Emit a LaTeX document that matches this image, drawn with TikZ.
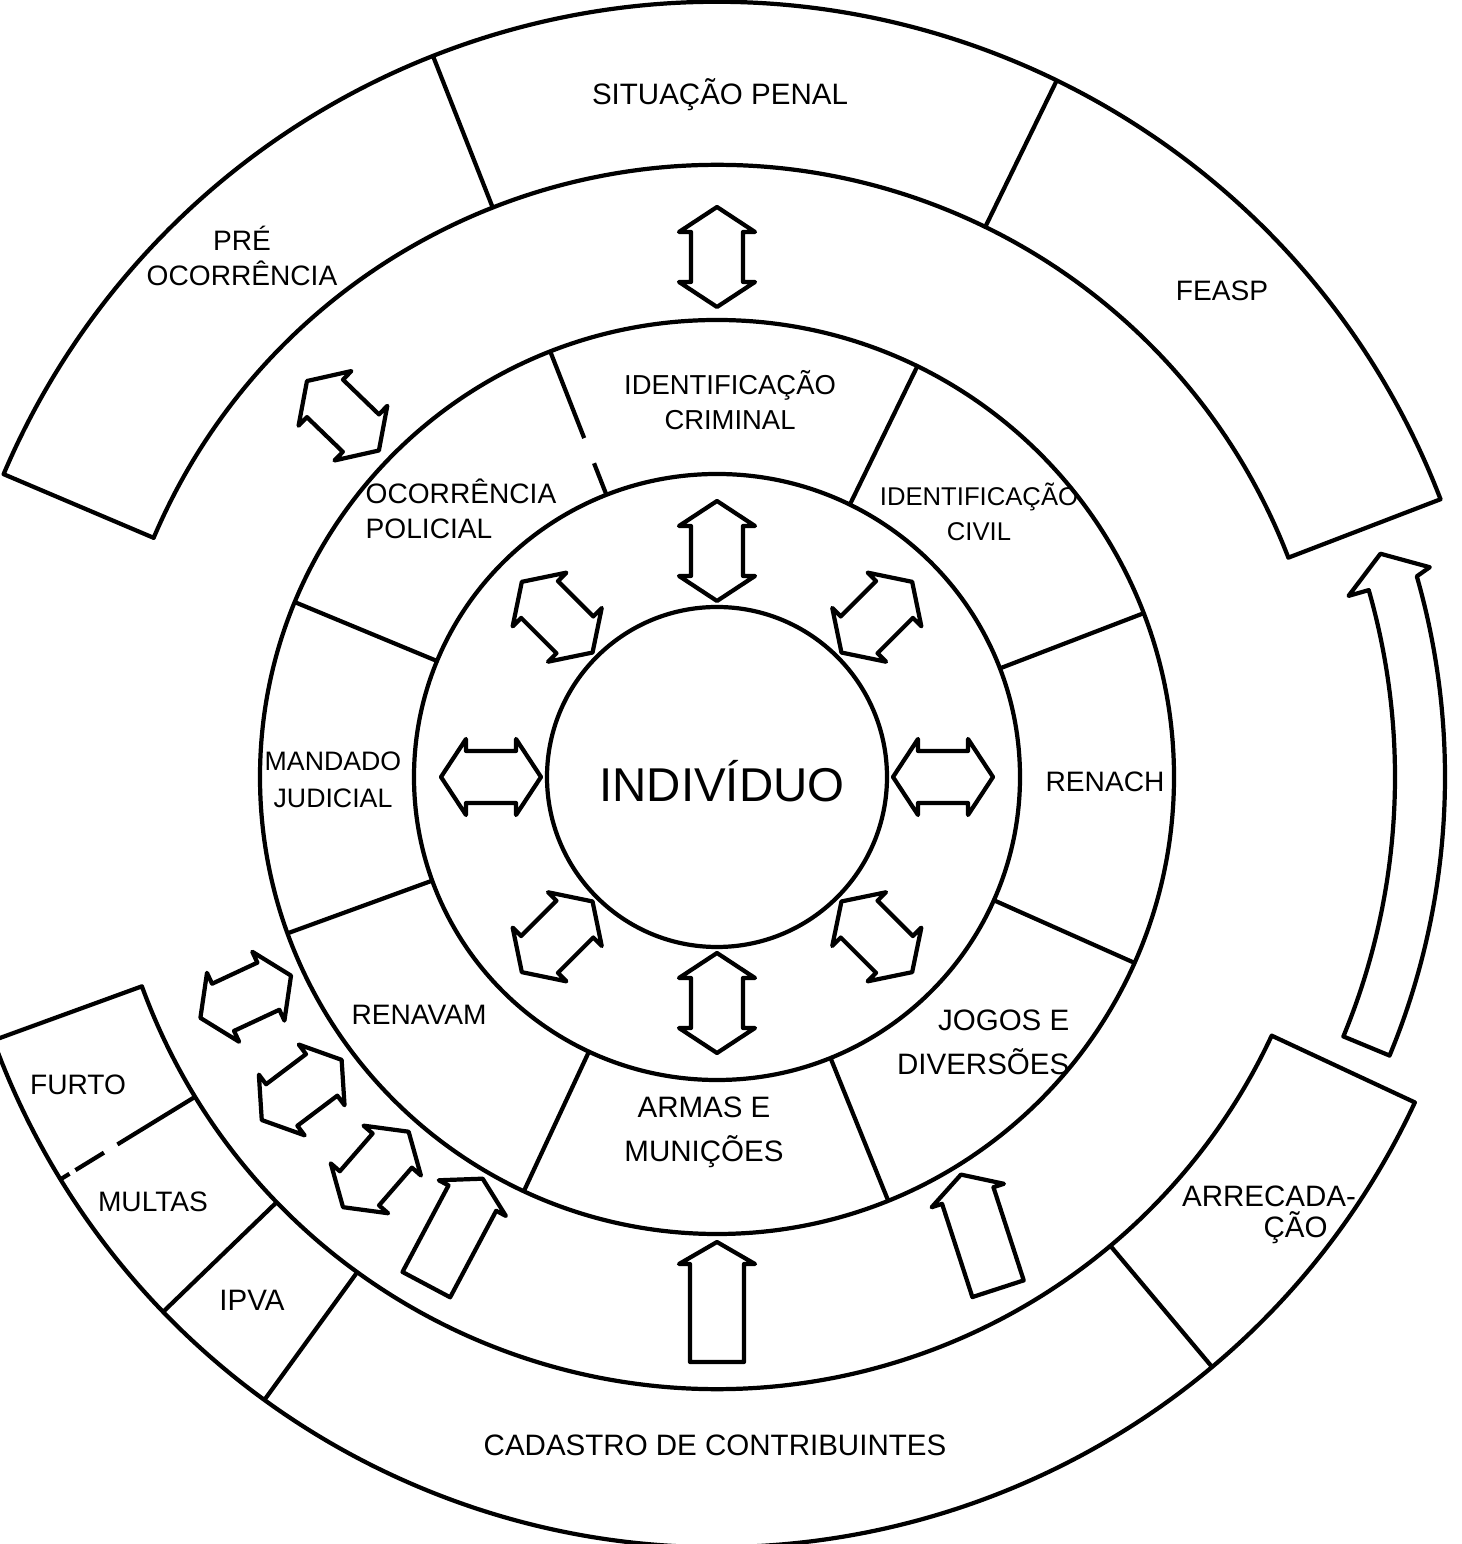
\documentclass[tikz,border=0pt]{standalone}
\usepackage{fontspec}
\setmainfont{Liberation Sans}
\usepackage{tikz}
\tikzset{
  linha/.style={line width=1.2pt, line join=round},
  rotulo/.style={font=\fontsize{8}{10}\selectfont, align=center, inner sep=0pt},
  rotulog/.style={font=\fontsize{8.4}{12.6}\selectfont, align=center, inner sep=0pt},
  setadupla/.pic={\draw[linha] (50,0) -- (25,38) -- (25,26) -- (-25,26) -- (-25,38) -- (-50,0) -- (-25,-38) -- (-25,-26) -- (25,-26) -- (25,-38) -- cycle;},
  seta/.pic={\draw[linha] (60,0) -- (38,38) -- (38,27) -- (-60,27) -- (-60,-27) -- (38,-27) -- (38,-38) -- cycle;}
}

\begin{document}
\begin{tikzpicture}[x=0.1mm,y=0.1mm]
\useasboundingbox (-717,-767) rectangle (744,777);
\draw[linha] (0,0) circle[radius=170];
\draw[linha] (0,0) circle[radius=303];
\draw[linha] (0,0) circle[radius=457];
\foreach \a in {64,21,-24,-68,-115,-160,157.5}
  \draw[linha] (\a:303) -- (\a:457);
\draw[linha] (111.4:457) -- (111.4:364) (111.4:337) -- (111.4:303);
\draw[linha] (157:612) arc[start angle=157,end angle=21,radius=612] -- (21:775) arc[start angle=21,end angle=157,radius=775] -- cycle;
\foreach \a in {111.5,64}
  \draw[linha] (\a:612) -- (\a:775);
\draw[linha] (200:612) arc[start angle=200,end angle=335,radius=612] -- (335:770) arc[start angle=335,end angle=200,radius=770] -- cycle;
\foreach \a in {224,234,310}
  \draw[linha] (\a:612) -- (\a:770);
\draw[linha, dash pattern=on 3pt off 2pt on 9.5pt off 4.5pt on 30pt] (211.5:770) -- (211.5:612);
\draw[linha] (16:678) -- (16:657) -- (18.6:700) -- (16.4:743) -- (16:728) arc[start angle=16,end angle=-22.5,radius=728] -- (-22.5:678) arc[start angle=-22.5,end angle=16,radius=678] -- cycle;
\foreach \a in {0,45,...,315}
  \pic[rotate=\a] at (\a:226) {setadupla};
\foreach \a in {90,136,205,217,229}
  \pic[rotate=\a] at (\a:520) {setadupla};
\foreach \a/\r in {240/62,270/90,300/108}
  \pic[rotate=\r] at (\a:525) {seta};
\node[rotulog] (sit) at (3,682) {SITUAÇÃO PENAL};
\node[rotulo] (pre) at (-475,521) {PRÉ\\OCORRÊNCIA};
\node[rotulo] (feasp) at (505,486) {FEASP};
\node[rotulo, font=\fontsize{7.8}{10}\selectfont] (icrim) at (13,377) {IDENTIFICAÇÃO\\CRIMINAL};
\node[rotulo, font=\fontsize{7.3}{10}\selectfont] (iciv) at (262,265) {IDENTIFICAÇÃO\\CIVIL};
\node[rotulo, align=left, anchor=west] (ocor) at (-352,268) {OCORRÊNCIA\\POLICIAL};
\node[rotulo, font=\fontsize{7.6}{10.5}\selectfont] (mand) at (-384,-3) {MANDADO\\JUDICIAL};
\node[rotulo, font=\fontsize{13.5}{16}\selectfont] (indiv) at (5,-4) {INDIVÍDUO};
\node[rotulo] (renach) at (388,-5) {RENACH};
\node[rotulo] (renavam) at (-298,-238) {RENAVAM};
\node[rotulog, align=right, anchor=east] (jogos) at (353,-265) {JOGOS E\\DIVERSÕES};
\node[rotulog] (armas) at (-13,-355) {ARMAS E\\MUNIÇÕES};
\node[rotulo] (furto) at (-639,-308) {FURTO};
\node[rotulo] (multas) at (-564,-425) {MULTAS};
\node[rotulog] (ipva) at (-465,-523) {IPVA};
\node[rotulog] (cad) at (-2,-668) {CADASTRO DE CONTRIBUINTES};
\node[rotulog, font=\fontsize{8.4}{9}\selectfont] (arrec) at (552,-438) {ARRECADA-\\\hspace*{1.8em}ÇÃO};
\end{tikzpicture}
\end{document}
